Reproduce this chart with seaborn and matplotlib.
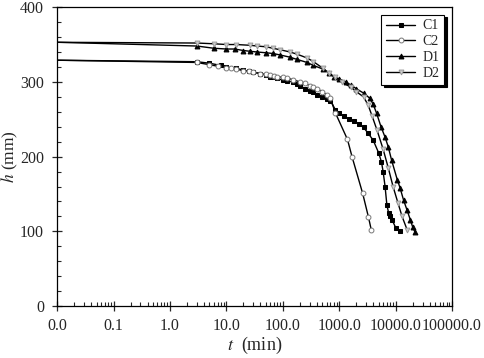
import numpy as np
import pandas as pd
import matplotlib
matplotlib.use("Agg")
import matplotlib.pyplot as plt
import seaborn as sns
from matplotlib.ticker import FixedLocator, FixedFormatter, LogLocator, MultipleLocator, NullFormatter

# data
c1_t = [0.01, 3, 5, 8, 10, 15, 20, 25, 30, 40, 50, 60, 70, 80, 100, 120, 150, 180, 200, 250, 300,
        350, 400, 500, 600, 700, 850, 1000, 1200, 1500, 1800, 2200, 2700, 3200, 4000, 5000, 5600,
        6000, 6500, 7000, 7500, 8000, 8700, 10000, 12000]
c1_h = [329, 327, 325, 322, 320, 318, 316, 314, 313, 311, 309, 307, 306, 305, 302, 301, 300, 297,
        295, 291, 288, 286, 283, 280, 277, 275, 263, 258, 254, 250, 248, 244, 239, 232, 222, 205,
        193, 180, 160, 135, 125, 120, 115, 105, 100]

c2_t = [0.01, 3, 5, 7, 10, 12, 15, 20, 25, 30, 40, 50, 60, 70, 80, 100, 120, 150, 200, 250, 300,
        350, 400, 500, 600, 700, 850, 1400, 1700, 2600, 3300, 3700]
c2_h = [329, 326, 323, 321, 319, 318, 317, 315, 314, 313, 311, 310, 309, 308, 307, 306, 305, 303,
        300, 298, 295, 293, 291, 287, 283, 278, 259, 223, 199, 151, 119, 102]

d1_t = [0.01, 3, 6, 10, 14, 20, 26, 35, 50, 67, 90, 135, 180, 270, 350, 520, 650, 800, 1000, 1300,
        1600, 2000, 2700, 3500, 4000, 4600, 5500, 6500, 7400, 8500, 10700, 12000, 13800, 16000,
        18300, 20000, 22000]
d1_h = [353, 348, 345, 344, 344, 342, 341, 340, 339, 338, 336, 333, 330, 326, 322, 317, 312, 307,
        304, 300, 296, 291, 285, 278, 270, 258, 240, 226, 213, 195, 169, 158, 142, 128, 115, 106, 99]

d2_t = [0.01, 3, 6, 10, 15, 26, 35, 50, 67, 90, 135, 180, 270, 350, 520, 650, 850, 1100, 1600, 2000,
        2700, 3250, 3800, 4700, 6000, 7400, 9000, 11000, 13000, 16000]
d2_h = [353, 352, 351, 350, 350, 349, 348, 347, 345, 343, 340, 337, 332, 327, 318, 312, 306, 300,
        293, 287, 280, 269, 255, 235, 210, 185, 160, 138, 120, 102]

x_ticks = [0.01, 0.1, 1, 10, 100, 1000, 10000, 100000]
x_tick_labels = ["0.0", "0.1", "1.0", "10.0", "100.0", "1000.0", "10000.0", "100000.0"]

sns.set_style("white")
plt.rcParams['font.family'] = ['Liberation Serif', 'DejaVu Serif']
plt.rcParams['mathtext.fontset'] = 'stix'

fig = plt.figure(figsize=(4.84, 3.58), dpi=100)
ax = fig.add_axes([0.118, 0.145, 0.816, 0.835])

series = [
    ("C1", c1_t, c1_h, dict(marker="s", markersize=3, markerfacecolor="black", markeredgecolor="black")),
    ("C2", c2_t, c2_h, dict(marker="o", markersize=3.5, markerfacecolor="white", markeredgecolor="#777777", markeredgewidth=0.7)),
    ("D1", d1_t, d1_h, dict(marker="^", markersize=3.5, markerfacecolor="black", markeredgecolor="black")),
    ("D2", d2_t, d2_h, dict(marker="v", markersize=3.5, markerfacecolor="#cccccc", markeredgecolor="#999999", markeredgewidth=0.7)),
]
for name, t, h, style in series:
    df = pd.DataFrame({"t": t, "h": h})
    sns.lineplot(data=df, x="t", y="h", ax=ax, sort=False, estimator=None, color="black",
                 linewidth=1.0, label=name, markevery=slice(1, None), **style)

ax.set_xscale("log")
ax.set_xlim(0.01, 100000)
ax.set_ylim(0, 400)
ax.xaxis.set_major_locator(FixedLocator(x_ticks))
ax.xaxis.set_major_formatter(FixedFormatter(x_tick_labels))
ax.xaxis.set_minor_locator(LogLocator(base=10, subs=np.arange(2, 10), numticks=20))
ax.xaxis.set_minor_formatter(NullFormatter())
ax.yaxis.set_major_locator(MultipleLocator(100))
ax.yaxis.set_minor_locator(MultipleLocator(20))

ax.tick_params(axis="both", which="major", direction="inout", length=7, width=0.9, labelsize=11.5,
               bottom=True, left=True, top=False, right=False)
ax.tick_params(axis="x", which="major", pad=5)
ax.tick_params(axis="y", which="major", pad=6)
ax.tick_params(axis="both", which="minor", direction="in", length=3, width=0.8,
               bottom=True, left=True, top=False, right=False)
for sp in ax.spines.values():
    sp.set_color("black")
    sp.set_linewidth(0.9)

ax.set_xlabel("$t$  (min)", fontsize=13, labelpad=1)
ax.set_ylabel("$h$ (mm)", fontsize=12.5)
ax.yaxis.set_label_coords(-0.094, 0.5)

leg = ax.legend(loc="upper right", bbox_to_anchor=(0.98, 0.975), fontsize=10, frameon=True,
                fancybox=False, edgecolor="black", handlelength=2.1, handletextpad=0.5,
                borderpad=0.35, labelspacing=0.2, borderaxespad=0,
                shadow={"color": "black", "alpha": 1})
leg.get_frame().set_linewidth(0.8)

fig.savefig("out.png", dpi=100)
